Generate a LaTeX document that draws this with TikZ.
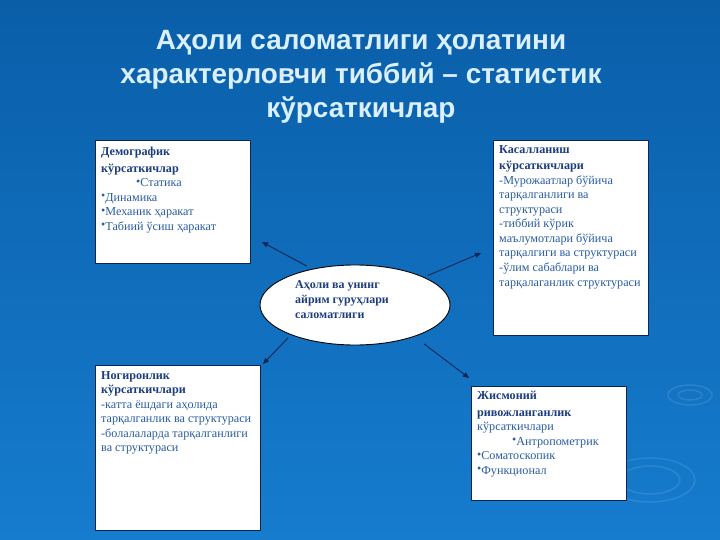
\documentclass[tikz,border=0pt]{standalone}
\usepackage{fontspec}
\setmainfont{Liberation Serif}
\newfontfamily\headfont{Liberation Sans}
\usetikzlibrary{shapes.geometric,arrows.meta}
\definecolor{bgtop}{RGB}{10,94,168}
\definecolor{bgbot}{RGB}{22,124,206}
\definecolor{boxhead}{RGB}{28,60,128}
\definecolor{boxtext}{RGB}{42,92,164}
\definecolor{titletext}{RGB}{218,240,255}
\definecolor{linkline}{RGB}{12,36,82}
\newcommand\hd[1]{\textbf{\color{boxhead}#1}}
\newcommand\pnt{{\fontsize{12}{12}\selectfont\raisebox{1.5bp}{•}}}
\tikzset{
  panel/.style={draw=linkline,line width=1.2bp,fill=white,inner sep=0pt,anchor=north west},
  paneltext/.style={anchor=north west,inner sep=0pt,align=left,text=boxtext,
    font=\fontsize{12.2}{14.6}\selectfont},
  link/.style={draw=linkline,line width=0.9bp,-{Triangle[length=6bp,width=5bp]}},
  ripple/.style={draw=white,draw opacity=0.1,line width=1.5bp}
}
\begin{document}
\begin{tikzpicture}[x=1bp,y=-1bp]
    \fill[top color=bgtop,bottom color=bgbot] (0,0) rectangle (720,540);
    \draw[ripple] (690,395) ellipse (22 and 10);
    \draw[ripple] (690,395) ellipse (12 and 5);
    \draw[ripple] (650,480) ellipse (45 and 22);
    \draw[ripple] (650,480) ellipse (30 and 14);

    \node[font=\headfont\bfseries\fontsize{28}{34}\selectfont,text=titletext,align=center]
        (title) at (361,77) {Аҳоли саломатлиги ҳолатини\\характерловчи тиббий – статистик\\кўрсаткичлар};

    \node[panel,minimum width=155bp,minimum height=123bp] (demo) at (95,140) {};
    \node[panel,minimum width=155bp,minimum height=195bp] (sick) at (493,140) {};
    \node[panel,minimum width=165bp,minimum height=165bp] (disab) at (95,365) {};
    \node[panel,minimum width=155bp,minimum height=114bp] (phys) at (471,386) {};

    \node[paneltext] (demo text) at (101,147) {\hd{Демографик}\\[2bp]
        \hd{кўрсаткичлар}\\
        \hspace*{35bp}\pnt Статика\\
        \pnt Динамика\\
        \pnt Механик ҳаракат\\
        \pnt Табиий ўсиш ҳаракат};
    \node[paneltext] (sick text) at (499,145) {\hd{Касалланиш}\\[2bp]
        \hd{кўрсаткичлари}\\
        -Мурожаатлар бўйича\\
        тарқалганлиги ва\\
        структураси\\
        -тиббий кўрик\\
        маълумотлари бўйича\\
        тарқалгиги ва структураси\\
        -ўлим сабаблари ва\\
        тарқалаганлик структураси};
    \node[paneltext] (disab text) at (101,371) {\hd{Ногиронлик}\\
        \hd{кўрсаткичлари}\\
        -катта ёшдаги аҳолида\\
        тарқалганлик ва структураси\\
        -болалаларда тарқалганлиги\\
        ва структураси};
    \node[paneltext] (phys text) at (477,391) {\hd{Жисмоний}\\[2bp]
        \hd{ривожланганлик}\\
        кўрсаткичлари\\
        \hspace*{35bp}\pnt Антропометрик\\
        \pnt Соматоскопик\\
        \pnt Функционал};

    \node[ellipse,draw=black,fill=white,line width=0.9bp,minimum width=190bp,minimum height=80bp]
        (health) at (355,305) {};
    \node[paneltext,text=boxhead,font=\bfseries\fontsize{12}{15.5}\selectfont]
        (health text) at (295,280) {Аҳоли ва унинг\\айрим гуруҳлари\\саломатлиги};

    \coordinate (demo tip) at (262,242);
    \coordinate (sick tip) at (481,253);
    \coordinate (disab tip) at (263,364);
    \coordinate (phys tip) at (469,378);
    \draw[link,shorten <=6bp] (health.140) -- (demo tip);
    \draw[link,shorten <=4bp] (health.22) -- (sick tip);
    \draw[link,shorten <=4bp] (health.205) -- (disab tip);
    \draw[link,shorten <=12bp] (health.-28) -- (phys tip);
\end{tikzpicture}
\end{document}
